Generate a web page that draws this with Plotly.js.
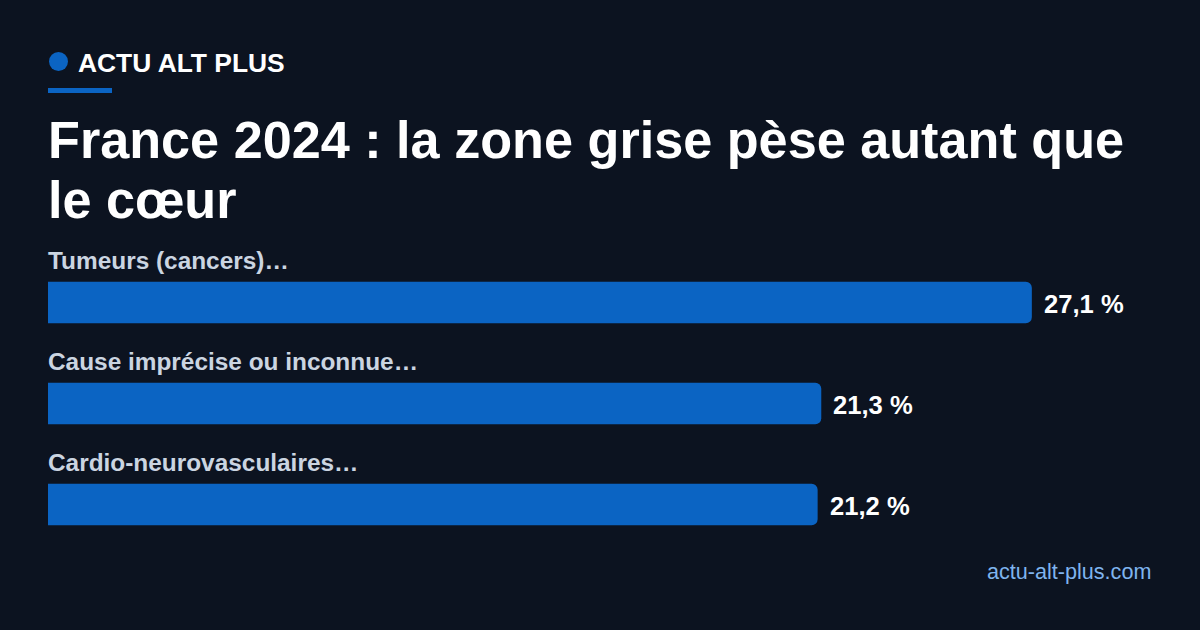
<!DOCTYPE html>
<html><head><meta charset="utf-8">
<script src="https://cdn.plot.ly/plotly-3.0.1.min.js"></script>
<style>html,body{margin:0;padding:0;background:#0c1320;}#c{width:1200px;height:630px;}</style>
</head><body><div id="c"></div>
<script>
const categories = ["Tumeurs (cancers)…", "Cause imprécise ou inconnue…", "Cardio-neurovasculaires…"];
const values = [27.1, 21.3, 21.2];
const brand = "ACTU ALT PLUS";
const titleLines = ["France 2024 : la zone grise pèse autant que", "le cœur"];
const source = "actu-alt-plus.com";

const W = 1200, H = 630;
const px = x => x / W, py = y => 1 - y / H;
const font = "Liberation Sans, Arial, sans-serif";
const fmt = v => v.toFixed(1).replace('.', ',') + ' %';

const trace = {
  type: 'bar', orientation: 'h',
  x: values, y: categories,
  marker: {color: '#0b64c3', cornerradius: 6},
  width: 0.41,
  hoverinfo: 'skip'
};

const annotations = [];
categories.forEach((c, i) => {
  annotations.push({xref: 'x', yref: 'y', x: 0, y: c, xanchor: 'left', yanchor: 'middle',
    yshift: 42, xshift: -1, borderpad: 0, text: '<b>' + c + '</b>', showarrow: false,
    font: {family: font, size: 24.4, color: '#cbd5e1'}});
  annotations.push({xref: 'x', yref: 'y', x: values[i], y: c, xanchor: 'left', yanchor: 'middle',
    xshift: 11, yshift: -1.5, borderpad: 0, text: '<b>' + fmt(values[i]) + '</b>', showarrow: false,
    font: {family: font, size: 25.6, color: '#ffffff'}});
});
annotations.push({xref: 'paper', yref: 'paper', x: px(77), y: py(63), xanchor: 'left', yanchor: 'middle',
  borderpad: 0, text: '<b>' + brand + '</b>', showarrow: false, font: {family: font, size: 26.4, color: '#ffffff'}});
titleLines.forEach((t, i) => {
  annotations.push({xref: 'paper', yref: 'paper', x: px(47), y: py(140 + 60 * i), xanchor: 'left', yanchor: 'middle',
    borderpad: 0, text: '<b>' + t + '</b>', showarrow: false, align: 'left',
    font: {family: font, size: 52.2, color: '#ffffff'}});
});
annotations.push({xref: 'paper', yref: 'paper', x: px(1152), y: py(571), xanchor: 'right', yanchor: 'middle',
  borderpad: 0, text: source, showarrow: false, font: {family: font, size: 21.6, color: '#7fb4ee'}});

const layout = {
  width: W, height: H,
  paper_bgcolor: '#0c1320', plot_bgcolor: '#0c1320',
  margin: {l: 0, r: 0, t: 0, b: 0},
  showlegend: false,
  xaxis: {domain: [px(48), px(1152)], range: [0, 30.41], visible: false, fixedrange: true},
  yaxis: {domain: [py(555), py(252)], range: [2.5, -0.5], type: 'category', visible: false, fixedrange: true},
  annotations: annotations,
  shapes: [
    {type: 'circle', xref: 'paper', yref: 'paper', x0: px(49), x1: px(68), y0: py(52), y1: py(71),
      fillcolor: '#0b64c3', line: {width: 0}},
    {type: 'rect', xref: 'paper', yref: 'paper', x0: px(48), x1: px(112), y0: py(88), y1: py(93),
      fillcolor: '#0b64c3', line: {width: 0}}
  ]
};
Plotly.newPlot('c', [trace], layout, {staticPlot: true, displayModeBar: false});
</script></body></html>
